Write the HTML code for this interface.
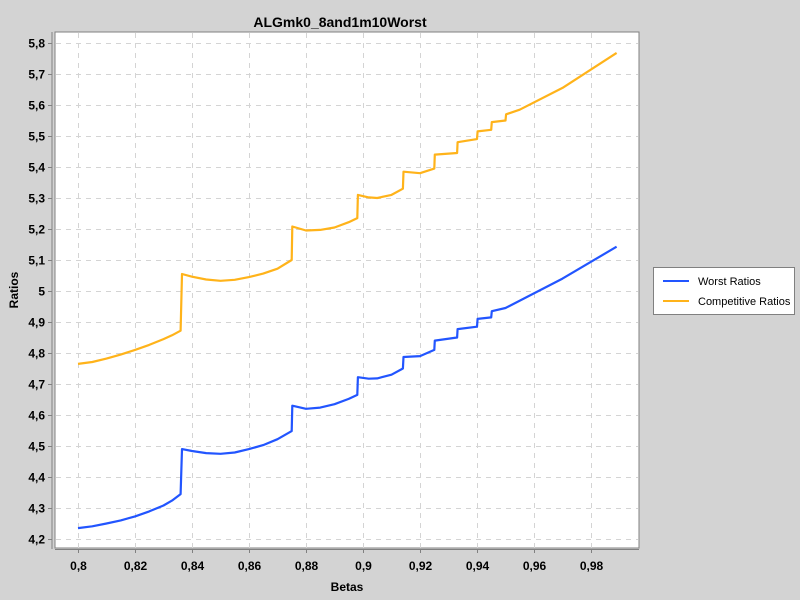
<!DOCTYPE html>
<html><head><meta charset="utf-8"><style>
body{margin:0;background:#d3d3d3;font-family:"Liberation Sans",sans-serif}
svg{display:block}
</style></head><body>
<svg id="c" width="800" height="600" xmlns="http://www.w3.org/2000/svg">
<rect width="800" height="600" fill="#d3d3d3"/>
<text x="340" y="27" text-anchor="middle" font-size="14" font-weight="bold" fill="#000">ALGmk0_8and1m10Worst</text>
<rect x="55" y="32" width="584" height="516" fill="#fff" stroke="#808080"/>
<g id="grid"></g>
<g id="axes"></g>
<g id="series"></g>
<text x="347" y="591" text-anchor="middle" font-size="12" font-weight="bold">Betas</text>
<text transform="translate(18,290) rotate(-90)" text-anchor="middle" font-size="12" font-weight="bold">Ratios</text>
<g>
<rect x="653.5" y="267.5" width="141" height="47" fill="#fff" stroke="#808080"/>
<g>
<line x1="663" y1="281" x2="689" y2="281" stroke="#2255ff" stroke-width="2"/>
<text x="698" y="285" font-size="11">Worst Ratios</text></g>
<g>
<line x1="663" y1="301" x2="689" y2="301" stroke="#ffb31a" stroke-width="2"/>
<text x="698" y="305" font-size="11">Competitive Ratios</text></g>
</g>
</svg>
<script>
const xTicks=[0.8,0.82,0.84,0.86,0.88,0.9,0.92,0.94,0.96,0.98];
const xTickLabels=["0,8","0,82","0,84","0,86","0,88","0,9","0,92","0,94","0,96","0,98"];
const yTicks=[4.2,4.3,4.4,4.5,4.6,4.7,4.8,4.9,5.0,5.1,5.2,5.3,5.4,5.5,5.6,5.7,5.8];
const yTickLabels=["4,2","4,3","4,4","4,5","4,6","4,7","4,8","4,9","5","5,1","5,2","5,3","5,4","5,5","5,6","5,7","5,8"];
const worstBetas=[0.8,0.805,0.81,0.815,0.82,0.825,0.83,0.833,0.836,0.8365,0.84,0.845,0.85,0.855,0.86,0.865,0.87,0.875,0.8752,0.88,0.885,0.89,0.895,0.898,0.8982,0.902,0.905,0.91,0.914,0.9142,0.92,0.925,0.9252,0.933,0.9332,0.94,0.9402,0.945,0.9452,0.95,0.97,0.989];
const worstValues=[4.235,4.241,4.25,4.26,4.273,4.289,4.308,4.324,4.345,4.49,4.484,4.477,4.475,4.479,4.49,4.503,4.522,4.548,4.63,4.62,4.624,4.635,4.652,4.665,4.722,4.717,4.718,4.73,4.75,4.787,4.79,4.81,4.84,4.85,4.877,4.885,4.91,4.915,4.935,4.945,5.04,5.143];
const compBetas=[0.8,0.805,0.81,0.815,0.82,0.825,0.83,0.833,0.836,0.8365,0.84,0.845,0.85,0.855,0.86,0.865,0.87,0.875,0.8752,0.88,0.885,0.89,0.895,0.898,0.8982,0.902,0.905,0.91,0.914,0.9142,0.92,0.925,0.9252,0.933,0.9332,0.94,0.9402,0.945,0.9452,0.95,0.9502,0.955,0.97,0.989];
const compValues=[4.765,4.771,4.782,4.795,4.81,4.826,4.845,4.857,4.872,5.055,5.046,5.037,5.033,5.036,5.045,5.056,5.072,5.1,5.208,5.195,5.197,5.205,5.222,5.235,5.31,5.302,5.3,5.31,5.33,5.385,5.38,5.395,5.44,5.445,5.48,5.49,5.515,5.52,5.545,5.55,5.57,5.585,5.655,5.768];
const NS="http://www.w3.org/2000/svg";
const xs=b=>78+(b-0.8)/0.02*57;
const ys=v=>539-(v-4.2)/0.1*31;
function mk(t,a,p){const e=document.createElementNS(NS,t);for(const k in a)e.setAttribute(k,a[k]);p.appendChild(e);return e;}
const grid=document.getElementById('grid'),axes=document.getElementById('axes'),ser=document.getElementById('series');
mk('line',{x1:52,y1:32,x2:52,y2:549,stroke:'#808080'},axes);
mk('line',{x1:55,y1:549.5,x2:639,y2:549.5,stroke:'#808080'},axes);
xTicks.forEach((t,i)=>{const x=Math.round(xs(t))+0.5;
 const g=mk('line',{x1:x,y1:33,x2:x,y2:548,stroke:'#d4d4d4','stroke-dasharray':'5,5'},grid);
 
 
 mk('line',{x1:x,y1:550,x2:x,y2:553,stroke:'#808080'},axes);
 const tx=mk('text',{x:x,y:570,'text-anchor':'middle','font-size':12,'font-weight':'bold'},axes);
 tx.textContent=xTickLabels[i];
 
 });
yTicks.forEach((t,i)=>{const y=Math.round(ys(t))+0.5;
 const g=mk('line',{x1:56,y1:y,x2:638,y2:y,stroke:'#d4d4d4','stroke-dasharray':'5,5'},grid);
 
 
 mk('line',{x1:48,y1:y,x2:52,y2:y,stroke:'#808080'},axes);
 const tx=mk('text',{x:45,y:y+4,'text-anchor':'end','font-size':12,'font-weight':'bold'},axes);
 tx.textContent=yTickLabels[i];
 
 });
function line(bs,vs,col,name){const d=bs.map((b,i)=>(i?'L':'M')+xs(b).toFixed(1)+','+ys(vs[i]).toFixed(1)).join('');
 const p=mk('path',{d:d,fill:'none',stroke:col,'stroke-width':2.2,'stroke-linejoin':'round'},ser);
 
 }
line(worstBetas,worstValues,'#2255ff','worst-ratios-line');
line(compBetas,compValues,'#ffb31a','competitive-ratios-line');
</script>
</body></html>
